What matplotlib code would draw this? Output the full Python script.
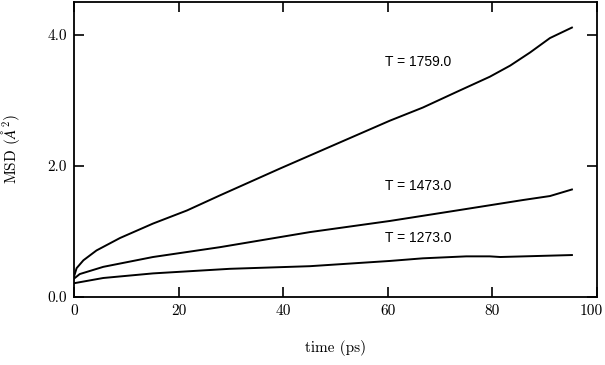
import numpy as np
import matplotlib
matplotlib.use("Agg")
import matplotlib.pyplot as plt
import matplotlib.transforms as mtransforms

# MSD curves
t_1759 = [0, 0.5, 1.8, 4.3, 8.8, 15.1, 21.6, 27.9, 39.4, 50.9, 60.4, 66.7, 73.2, 79.5, 83.4, 87.2, 91.0, 95.2]
msd_1759 = [0.31, 0.44, 0.56, 0.71, 0.90, 1.12, 1.32, 1.55, 1.96, 2.36, 2.69, 2.89, 3.13, 3.36, 3.53, 3.73, 3.95, 4.11]

t_1473 = [0, 1.1, 5.6, 15.1, 27.9, 45.1, 60.4, 73.2, 85.9, 91.0, 95.2]
msd_1473 = [0.28, 0.35, 0.46, 0.61, 0.76, 0.99, 1.16, 1.32, 1.48, 1.54, 1.64]

t_1273 = [0, 5.6, 15.1, 29.8, 45.1, 60.4, 66.7, 75.0, 79.5, 81.5, 95.2]
msd_1273 = [0.21, 0.29, 0.36, 0.43, 0.47, 0.55, 0.59, 0.62, 0.62, 0.61, 0.64]

labels = ["T = 1759.0", "T = 1473.0", "T = 1273.0"]
label_pos = [(59.5, 3.59), (59.5, 1.69), (59.5, 0.90)]

plt.rcParams["mathtext.fontset"] = "cm"

fig = plt.figure(figsize=(6.05, 3.65), dpi=100)
ax = fig.add_axes([0.1223, 0.1863, 0.8645, 0.8082])

for t, m in [(t_1759, msd_1759), (t_1473, msd_1473), (t_1273, msd_1273)]:
    ax.plot(t, m, color="k", lw=1.4)

for lab, (x, y) in zip(labels, label_pos):
    ax.text(x, y, lab, fontsize=10, family="Liberation Sans", va="center", ha="left")

ax.set_xlim(0, 100)
ax.set_ylim(0, 4.5)
ax.set_xticks([0, 20, 40, 60, 80, 100])
ax.set_yticks([0, 2, 4])
ax.set_yticklabels(["0.0", "2.0", "4.0"])
ax.tick_params(direction="in", length=7, width=1.2, top=True, right=True, labelsize=11, pad=5)
for lab in ax.get_xticklabels() + ax.get_yticklabels():
    lab.set_family("cmr10")
# keep "100" inside the canvas
last = ax.get_xticklabels()[-1]
last.set_transform(last.get_transform() + mtransforms.ScaledTranslation(-6 / 100, 0, fig.dpi_scale_trans))
for s in ax.spines.values():
    s.set_linewidth(1.3)

ax.set_xlabel("time (ps)", family="cmr10", fontsize=11, labelpad=16)
ax.set_ylabel(r"MSD ($\AA^2$)", family="cmr10", fontsize=11, labelpad=18)

fig.savefig("out.png", dpi=100)
